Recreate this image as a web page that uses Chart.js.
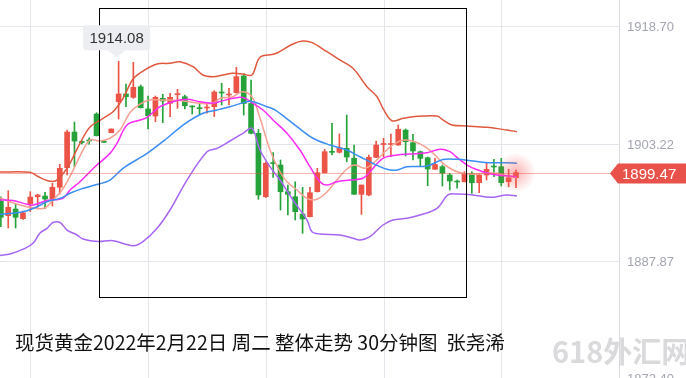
<!DOCTYPE html>
<html>
<head>
<meta charset="utf-8">
<script src="https://cdn.jsdelivr.net/npm/chart.js@4.4.1/dist/chart.umd.min.js"></script>
<style>
    html, body { margin: 0; padding: 0; background: #fff; }
    #wrap { width: 686px; height: 378px; position: relative; overflow: hidden; }
</style>
</head>
<body>
<div id="wrap"><canvas id="kline" width="686" height="378"></canvas></div>
<script>
// 30 minute candles, gold spot, 2022-02-22
const opens = [1895.74, 1893.81, 1894.69, 1893.42, 1895.38, 1896.30, 1896.39, 1896.04, 1897.54, 1900.11,
    1904.79, 1903.48, 1903.70, 1907.15, 1903.52, 1904.70, 1908.77, 1909.78, 1909.34, 1910.73,
    1907.81, 1906.89, 1909.21, 1908.56, 1909.69, 1909.42, 1908.14, 1907.90, 1907.94, 1908.11,
    1909.97, 1909.65, 1909.95, 1912.14, 1908.53, 1904.62, 1896.30, 1900.72, 1900.46, 1896.96,
    1896.30, 1894.03, 1893.68, 1896.96, 1899.45, 1902.21, 1902.13, 1902.65, 1901.34, 1896.62,
    1896.53, 1901.47, 1903.15, 1903.15, 1903.09, 1905.05, 1903.39, 1902.21, 1901.42, 1899.90,
    1900.24, 1899.15, 1898.30, 1898.27, 1899.37, 1898.14, 1899.15, 1900.27, 1900.24, 1898.27,
    1898.80];
const highs = [1896.30, 1897.09, 1895.44, 1894.43, 1896.96, 1896.62, 1896.88, 1898.06, 1900.55, 1905.05,
    1906.10, 1903.65, 1904.04, 1907.32, 1903.61, 1905.19, 1914.08, 1911.09, 1913.94, 1910.96,
    1909.51, 1909.51, 1909.74, 1909.87, 1910.39, 1909.65, 1908.24, 1908.43, 1908.56, 1910.21,
    1911.18, 1910.53, 1913.28, 1912.40, 1911.61, 1905.15, 1900.86, 1902.08, 1901.12, 1897.84,
    1898.27, 1897.54, 1897.54, 1900.03, 1902.52, 1905.93, 1904.53, 1907.02, 1903.09, 1897.84,
    1901.77, 1903.61, 1903.97, 1904.53, 1905.71, 1905.19, 1904.49, 1902.30, 1901.51, 1901.34,
    1900.46, 1899.37, 1898.49, 1899.58, 1899.58, 1899.37, 1900.69, 1901.21, 1901.34, 1899.90,
    1899.81];
const lows = [1892.37, 1892.20, 1892.20, 1893.31, 1894.34, 1894.91, 1894.73, 1895.08, 1896.66, 1899.15,
    1900.24, 1903.22, 1903.18, 1904.27, 1903.39, 1904.70, 1906.50, 1908.11, 1909.21, 1907.94,
    1905.19, 1906.14, 1906.01, 1906.80, 1907.90, 1907.81, 1907.15, 1907.06, 1907.25, 1906.83,
    1908.33, 1908.33, 1909.91, 1907.02, 1904.53, 1895.96, 1896.20, 1898.85, 1894.56, 1893.90,
    1893.25, 1891.50, 1893.64, 1896.92, 1899.41, 1901.77, 1902.04, 1900.89, 1896.59, 1893.99,
    1896.43, 1901.44, 1901.55, 1901.55, 1903.02, 1901.64, 1901.12, 1900.24, 1897.75, 1899.87,
    1897.71, 1897.18, 1897.41, 1898.23, 1896.75, 1896.83, 1898.49, 1898.93, 1897.71, 1897.61,
    1897.48];
const closes = [1893.60, 1894.91, 1893.60, 1894.20, 1896.26, 1896.53, 1896.00, 1897.54, 1900.03, 1904.79,
    1903.61, 1903.41, 1903.61, 1904.31, 1903.44, 1905.19, 1909.78, 1909.42, 1910.66, 1907.98,
    1906.93, 1909.34, 1908.86, 1909.34, 1909.74, 1908.24, 1908.08, 1907.85, 1907.99, 1910.04,
    1909.91, 1909.74, 1912.05, 1908.53, 1904.62, 1896.53, 1900.69, 1900.65, 1896.96, 1896.62,
    1894.34, 1893.38, 1896.83, 1899.45, 1902.21, 1902.13, 1902.73, 1901.51, 1896.62, 1897.84,
    1901.47, 1903.09, 1903.18, 1903.18, 1905.15, 1903.52, 1902.30, 1901.34, 1899.94, 1900.53,
    1899.37, 1898.36, 1898.23, 1899.28, 1898.14, 1899.15, 1899.90, 1900.20, 1898.14, 1898.80,
    1899.47];

// indicator lines, read as [candle index, price]
const bollUpper = [[-0.12, 1899.54], [3.96, 1899.50], [4.91, 1899.02], [6.27, 1898.43], [7.36, 1898.36], [8.31, 1899.15],
    [9.39, 1900.68], [10.75, 1903.31], [12.11, 1905.45], [13.88, 1906.59], [15.24, 1907.46], [16.60, 1909.21],
    [17.95, 1911.74], [19.31, 1912.79], [21.22, 1913.71], [22.98, 1913.81], [24.34, 1914.01], [26.11, 1913.36],
    [27.46, 1912.27], [28.82, 1912.05], [30.18, 1912.27], [31.54, 1912.49], [32.90, 1912.40], [34.12, 1912.27],
    [35.21, 1914.59], [37.25, 1915.05], [39.69, 1916.34], [41.05, 1916.73], [42.28, 1916.51], [44.31, 1915.33],
    [46.08, 1914.24], [47.85, 1913.15], [49.75, 1910.73], [51.11, 1909.42], [51.92, 1907.90], [53.14, 1906.27],
    [54.64, 1906.59], [56.00, 1906.80], [59.26, 1906.89], [60.07, 1906.37], [61.30, 1905.71], [63.33, 1905.58],
    [66.05, 1905.41], [68.77, 1905.05], [70.13, 1904.83]];
const bollLower = [[-0.12, 1888.59], [1.24, 1888.79], [3.28, 1889.53], [4.37, 1890.19], [5.32, 1891.54], [6.27, 1892.16],
    [7.08, 1892.92], [8.04, 1892.92], [8.99, 1891.93], [10.34, 1891.28], [11.16, 1890.75], [13.20, 1890.42],
    [15.24, 1890.53], [17.95, 1889.87], [19.31, 1890.40], [21.22, 1892.16], [22.98, 1894.56], [25.29, 1898.49],
    [28.01, 1902.21], [29.37, 1902.65], [31.13, 1903.61], [32.90, 1904.62], [34.12, 1905.28], [35.21, 1902.43],
    [36.57, 1900.24], [37.93, 1898.49], [39.69, 1895.87], [41.60, 1893.25], [42.28, 1891.71], [43.36, 1891.41],
    [46.08, 1891.28], [47.85, 1890.85], [48.80, 1890.62], [50.16, 1891.06], [51.92, 1892.59], [53.28, 1893.25],
    [55.18, 1893.47], [56.95, 1893.90], [59.26, 1894.78], [60.75, 1896.53], [61.97, 1896.66], [64.15, 1896.53],
    [66.46, 1896.22], [68.77, 1896.53], [70.13, 1896.40]];
const bollMid = [[-0.12, 1894.01], [1.65, 1894.12], [3.55, 1894.47], [4.91, 1894.99], [6.27, 1895.65], [8.04, 1896.09],
    [9.39, 1896.75], [10.75, 1897.27], [12.79, 1897.84], [14.83, 1898.49], [16.60, 1900.03], [19.86, 1901.99],
    [22.57, 1903.97], [24.75, 1905.71], [27.46, 1907.25], [29.37, 1907.68], [31.13, 1908.11], [33.44, 1908.77],
    [34.26, 1908.77], [36.16, 1908.11], [37.25, 1907.68], [40.24, 1905.49], [42.41, 1903.97], [44.72, 1903.09],
    [47.03, 1902.43], [48.80, 1901.55], [50.56, 1900.68], [52.46, 1899.90], [53.82, 1899.81], [55.18, 1900.24],
    [57.90, 1900.33], [60.07, 1901.18], [61.97, 1901.21], [64.15, 1900.99], [66.46, 1900.76], [68.77, 1900.76],
    [70.13, 1900.68]];
const ma10 = [[-0.12, 1895.87], [1.65, 1895.80], [3.55, 1895.31], [4.37, 1895.21], [6.27, 1895.80], [8.44, 1896.09],
    [9.39, 1897.18], [10.75, 1898.27], [12.79, 1900.24], [14.83, 1901.99], [15.78, 1903.31], [17.14, 1905.71],
    [18.91, 1906.37], [19.86, 1906.72], [21.62, 1908.11], [23.39, 1908.77], [25.29, 1909.08], [27.06, 1908.77],
    [28.82, 1908.56], [29.77, 1908.79], [31.54, 1909.21], [32.90, 1909.32], [34.26, 1908.56], [35.62, 1907.68],
    [36.98, 1906.37], [38.88, 1904.62], [40.64, 1902.43], [42.00, 1900.24], [43.36, 1898.27], [44.31, 1897.84],
    [45.67, 1898.27], [47.44, 1898.49], [49.20, 1898.72], [50.16, 1899.58], [51.92, 1901.34], [53.82, 1901.77],
    [55.59, 1901.90], [57.90, 1902.07], [59.67, 1902.52], [61.02, 1902.21], [61.97, 1901.47], [63.74, 1900.24],
    [65.51, 1899.58], [67.41, 1899.15], [69.18, 1899.02], [70.13, 1898.93]];
const ma5 = [[-0.12, 1896.13], [2.60, 1895.21], [4.64, 1894.78], [6.00, 1894.82], [7.08, 1895.87], [8.31, 1897.18],
    [9.39, 1898.93], [10.75, 1901.64], [12.11, 1903.74], [13.47, 1903.61], [14.83, 1903.97], [16.19, 1905.05],
    [17.55, 1907.35], [18.91, 1908.46], [20.26, 1908.99], [21.62, 1908.99], [23.39, 1908.99], [25.29, 1908.79],
    [27.06, 1908.56], [28.82, 1908.56], [29.77, 1909.19], [31.54, 1909.42], [32.76, 1910.08], [34.12, 1909.42],
    [35.21, 1906.63], [36.57, 1902.43], [37.93, 1899.58], [38.88, 1898.27], [40.24, 1897.18], [41.60, 1896.09],
    [42.95, 1895.96], [44.31, 1896.92], [45.67, 1898.49], [47.03, 1899.94], [48.12, 1900.46], [49.48, 1900.03],
    [50.83, 1900.89], [52.19, 1902.21], [53.55, 1903.31], [54.91, 1903.74], [56.27, 1903.52], [57.63, 1902.86],
    [58.99, 1901.77], [60.07, 1900.68], [61.43, 1899.81], [62.79, 1899.37], [64.69, 1899.24], [66.05, 1899.45],
    [67.41, 1899.37], [69.18, 1898.93], [70.13, 1898.85]];

const yTicks = [1918.70, 1903.22, 1887.87, 1872.40];
const xGridIdx = [4, 20, 36, 52, 68];
const boxIdx = [13.37, 63.2];       // drawn selection box, candle index
const boxPrice = [1921.06, 1883.14];
const titleText = '现货黄金2022年2月22日 周二 整体走势 30分钟图  张尧浠';

const UP = '#eb5446';
const DOWN = '#25a33a';
const candleColor = closes.map((c, i) => c >= opens[i] ? UP : DOWN);
const toPts = arr => arr.map(p => ({x: p[0], y: p[1]}));

const lineSet = (data, color) => ({
    type: 'line',
    data: toPts(data),
    borderColor: color,
    borderWidth: 1.5,
    pointRadius: 0,
    tension: 0.35,
    fill: false,
    order: 1
});

const backdrop = {
    id: 'backdrop',
    beforeDatasetsDraw(chart) {
        const {ctx, chartArea: a, scales: {x, y}} = chart;
        ctx.save();
        ctx.strokeStyle = '#e4e5ea';
        ctx.lineWidth = 1;
        yTicks.forEach(t => {
            const py = Math.round(y.getPixelForValue(t)) + 0.5;
            ctx.beginPath(); ctx.moveTo(a.left, py); ctx.lineTo(a.right, py); ctx.stroke();
        });
        xGridIdx.forEach(t => {
            const px = Math.round(x.getPixelForValue(t)) + 0.5;
            ctx.beginPath(); ctx.moveTo(px, a.top); ctx.lineTo(px, a.bottom); ctx.stroke();
        });
        ctx.strokeStyle = '#d8d9de';
        ctx.beginPath(); ctx.moveTo(a.right + 0.5, 0); ctx.lineTo(a.right + 0.5, chart.height); ctx.stroke();

        ctx.fillStyle = '#a3a6b1';
        ctx.font = '13px "Liberation Sans", Arial, sans-serif';
        ctx.textBaseline = 'middle';
        ctx.textAlign = 'left';
        yTicks.forEach(t => ctx.fillText(t.toFixed(2), a.right + 8, y.getPixelForValue(t) + 1));

        // watermark
        ctx.fillStyle = '#dadadd';
        ctx.font = 'bold 29px "Noto Sans CJK SC", sans-serif';
        ctx.fillText('618外汇网', 552, 352);
        ctx.restore();
    },
    afterDatasetsDraw(chart) {
        const {ctx, chartArea: a, scales: {x, y}} = chart;
        const last = closes.length - 1;
        const lx = x.getPixelForValue(last);
        const ly = y.getPixelForValue(closes[last]);
        ctx.save();

        // glow on latest candle
        const g = ctx.createRadialGradient(lx, ly, 0, lx, ly, 20);
        g.addColorStop(0, 'rgba(245,90,90,0.45)');
        g.addColorStop(1, 'rgba(245,90,90,0)');
        ctx.fillStyle = g;
        ctx.fillRect(lx - 20, ly - 20, 40, 40);

        // last price line and tag
        const py = Math.round(ly) + 0.5;
        ctx.strokeStyle = 'rgba(235,84,70,0.45)';
        ctx.beginPath(); ctx.moveTo(a.left, py); ctx.lineTo(a.right - 9, py); ctx.stroke();
        ctx.fillStyle = '#e9524a';
        ctx.beginPath();
        ctx.moveTo(a.right - 9, py);
        ctx.lineTo(a.right - 1, py - 10);
        ctx.lineTo(chart.width, py - 10);
        ctx.lineTo(chart.width, py + 10);
        ctx.lineTo(a.right - 1, py + 10);
        ctx.closePath();
        ctx.fill();
        ctx.fillStyle = '#fff';
        ctx.font = '15px "Liberation Sans", Arial, sans-serif';
        ctx.textBaseline = 'middle';
        ctx.fillText(closes[last].toFixed(2), a.right + 3, py + 1);

        // selection box
        const x0 = Math.round(x.getPixelForValue(boxIdx[0])) + 0.5;
        const x1 = Math.round(x.getPixelForValue(boxIdx[1])) + 0.5;
        const y0 = Math.round(y.getPixelForValue(boxPrice[0])) + 0.5;
        const y1 = Math.round(y.getPixelForValue(boxPrice[1])) + 0.5;
        ctx.strokeStyle = '#000';
        ctx.lineWidth = 1;
        ctx.strokeRect(x0, y0, x1 - x0, y1 - y0);

        // max high bubble
        let hi = 0;
        highs.forEach((h, i) => { if (h > highs[hi]) hi = i; });
        const hx = x.getPixelForValue(hi) - 2;
        const hy = y.getPixelForValue(highs[hi]);
        const bw = 67, bh = 25, by = hy - 36;
        ctx.fillStyle = '#eceef1';
        ctx.beginPath();
        ctx.roundRect(hx - bw / 2, by, bw, bh, 3);
        ctx.fill();
        ctx.beginPath();
        ctx.moveTo(hx - 9, by + bh);
        ctx.lineTo(hx, by + bh + 7);
        ctx.lineTo(hx + 9, by + bh);
        ctx.closePath();
        ctx.fill();
        ctx.fillStyle = '#333';
        ctx.font = '15px "Liberation Sans", Arial, sans-serif';
        ctx.textAlign = 'center';
        ctx.fillText(highs[hi].toFixed(2), hx, by + bh / 2 + 1);

        // caption
        ctx.textAlign = 'left';
        ctx.textBaseline = 'alphabetic';
        ctx.fillStyle = '#111';
        ctx.font = '19.5px "Noto Sans CJK SC", sans-serif';
        ctx.fillText(titleText, 15, 350);
        ctx.restore();
    }
};

new Chart(document.getElementById('kline').getContext('2d'), {
    type: 'bar',
    data: {
        datasets: [
            {
                data: lows.map((l, i) => ({x: i, y: [l, highs[i]]})),
                backgroundColor: candleColor,
                barThickness: 1,
                grouped: false,
                order: 3
            },
            {
                data: opens.map((o, i) => ({x: i, y: [o, closes[i]]})),
                backgroundColor: candleColor,
                barThickness: 5,
                minBarLength: 1,
                grouped: false,
                order: 2
            },
            lineSet(bollUpper, '#e0583e'),
            lineSet(bollLower, '#a766f2'),
            lineSet(bollMid, '#3a8df3'),
            lineSet(ma10, '#fb2cf5'),
            lineSet(ma5, '#f6a092')
        ]
    },
    options: {
        responsive: false,
        animation: false,
        layout: { padding: { left: 0, right: 67, top: 0, bottom: 0 } },
        scales: {
            x: { type: 'linear', min: -0.12, max: 84, offset: false, display: false },
            y: { min: 1872.52, max: 1922.11, display: false }
        },
        plugins: {
            legend: { display: false },
            tooltip: { enabled: false }
        }
    },
    plugins: [backdrop]
});
</script>
</body>
</html>
